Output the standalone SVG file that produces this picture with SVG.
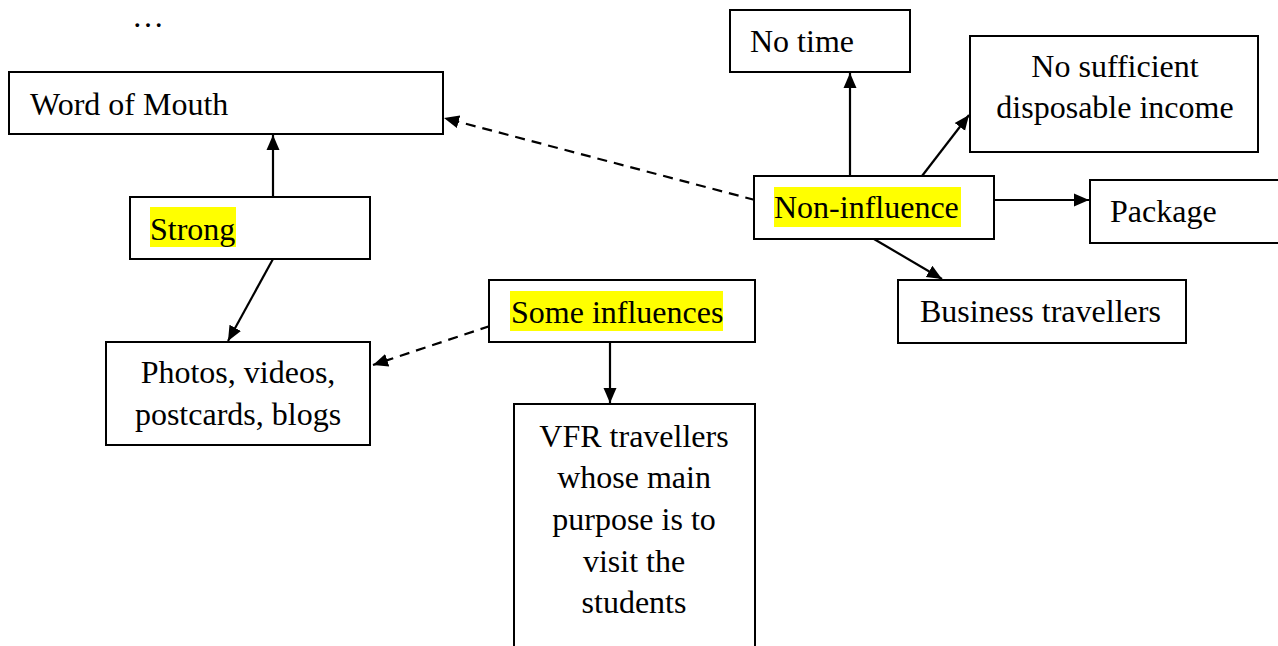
<svg xmlns="http://www.w3.org/2000/svg" width="1278" height="646" viewBox="0 0 1278 646">
  <style>
    .box { fill: #ffffff; stroke: #000000; stroke-width: 2; }
    .hl { fill: #ffff00; }
    .t { font-family: "Liberation Serif", "Times New Roman", serif; font-size: 32px; fill: #000000; }
    .c { text-anchor: middle; }
    .edge { fill: none; stroke: #000000; stroke-width: 2.2; }
    .dash { stroke-dasharray: 10 7; }
  </style>
  <defs>
    <marker id="arrow" markerUnits="userSpaceOnUse" markerWidth="16" markerHeight="16" viewBox="0 0 16 16" refX="15" refY="8" orient="auto">
      <path d="M0,1.5 L15,8 L0,14.5 Z" fill="#000000"/>
    </marker>
  </defs>

  <text class="t" x="132" y="27">…</text>

  <g id="connectors">
    <line class="edge" x1="273" y1="197" x2="273" y2="135" marker-end="url(#arrow)"/>
    <line class="edge" x1="273" y1="259" x2="228" y2="341" marker-end="url(#arrow)"/>
    <line class="edge dash" x1="490" y1="326" x2="373" y2="365" marker-end="url(#arrow)"/>
    <line class="edge" x1="610" y1="342" x2="610" y2="403" marker-end="url(#arrow)"/>
    <line class="edge dash" x1="755" y1="200" x2="444" y2="118" marker-end="url(#arrow)"/>
    <line class="edge" x1="850" y1="176" x2="850" y2="73" marker-end="url(#arrow)"/>
    <line class="edge" x1="922" y1="176" x2="969" y2="115" marker-end="url(#arrow)"/>
    <line class="edge" x1="994" y1="200" x2="1089" y2="200" marker-end="url(#arrow)"/>
    <line class="edge" x1="874" y1="239" x2="942" y2="279" marker-end="url(#arrow)"/>
  </g>

  <g id="word-of-mouth">
    <rect class="box" x="9" y="72" width="434" height="62"/>
    <text class="t" x="30" y="115">Word of Mouth</text>
  </g>

  <g id="strong">
    <rect class="box" x="130" y="197" width="240" height="62"/>
    <rect class="hl" x="150" y="207" width="86" height="40"/>
    <text class="t" x="150" y="240">Strong</text>
  </g>

  <g id="photos">
    <rect class="box" x="106" y="342" width="264" height="103"/>
    <text class="t c" x="238" y="383">Photos, videos,</text>
    <text class="t c" x="238" y="425">postcards, blogs</text>
  </g>

  <g id="some-influences">
    <rect class="box" x="489" y="280" width="266" height="62"/>
    <rect class="hl" x="510" y="291" width="213" height="40"/>
    <text class="t" x="511" y="323">Some influences</text>
  </g>

  <g id="vfr">
    <rect class="box" x="514" y="404" width="241" height="260"/>
    <text class="t c" x="634" y="447">VFR travellers</text>
    <text class="t c" x="634" y="488">whose main</text>
    <text class="t c" x="634" y="530">purpose is to</text>
    <text class="t c" x="634" y="572">visit the</text>
    <text class="t c" x="634" y="613">students</text>
  </g>

  <g id="no-time">
    <rect class="box" x="730" y="10" width="180" height="62"/>
    <text class="t" x="750" y="52">No time</text>
  </g>

  <g id="no-income">
    <rect class="box" x="970" y="36" width="288" height="116"/>
    <text class="t c" x="1115" y="77">No sufficient</text>
    <text class="t c" x="1115" y="118">disposable income</text>
  </g>

  <g id="non-influence">
    <rect class="box" x="754" y="176" width="240" height="63"/>
    <rect class="hl" x="774" y="187" width="187" height="40"/>
    <text class="t" x="774" y="218">Non-influence</text>
  </g>

  <g id="package">
    <rect class="box" x="1090" y="180" width="200" height="63"/>
    <text class="t" x="1110" y="222">Package</text>
  </g>

  <g id="business">
    <rect class="box" x="898" y="280" width="288" height="63"/>
    <text class="t" x="920" y="322">Business travellers</text>
  </g>
</svg>
